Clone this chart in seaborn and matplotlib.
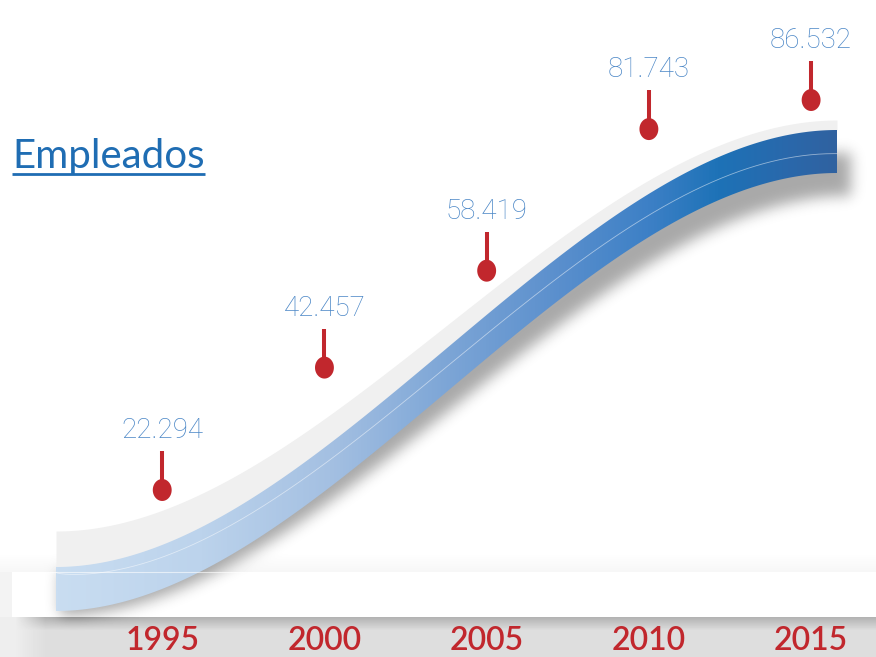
import numpy as np
import pandas as pd
import matplotlib
matplotlib.use('Agg')
import matplotlib.pyplot as plt
import seaborn as sns
from matplotlib.colors import LinearSegmentedColormap
from matplotlib.patches import Polygon

years = [1995, 2000, 2005, 2010, 2015]
empleados = [22294, 42457, 58419, 81743, 86532]
title = 'Empleados'

red = '#c1272d'
label_blue = '#4a86c6'
title_blue = '#1f6db3'
ribbon_stops = [(56, '#c9ddf1'), (200, '#bcd3ec'), (330, '#a4c0e2'), (450, '#7ca5d6'),
                (560, '#5a8fcd'), (650, '#3d80c6'), (720, '#1d72b7'), (790, '#2a68ab'),
                (837, '#3062a0')]

sns.set_theme(style='white')
plt.rcParams['font.family'] = ['Lato', 'DejaVu Sans']

W, H = 876, 657
fig = plt.figure(figsize=(W / 100, H / 100), dpi=100)
fig.patch.set_facecolor('white')

# --- decoration layer, pixel coordinates ---
deco = fig.add_axes([0, 0, 1, 1])
deco.axis('off')


def smooth(x, x0=56, x1=837):
    t = np.clip((x - x0) / (x1 - x0), 0, 1)
    return 3 * t**2 - 2 * t**3


def gray_top(x): return 531 - 411 * smooth(x)
def blue_top(x): return 567 - 437 * smooth(x)
def blue_bot(x): return 611 - 438 * smooth(x)


rows = np.arange(H)[:, None].astype(float)
cols = np.arange(W)[None, :].astype(float)

bg = np.ones((H, W))
# faint shade over the floor strip
bg -= 0.035 * np.clip((rows - 552) / 20, 0, 1) * (rows < 572)
bg[572:617, :12] = 0.95
# gray floor
floor = 0.70 + 0.17 * np.clip((rows - 617) / 13, 0, 1)
left = np.clip((cols - 15) / 30, 0, 1)
floor = 0.93 * (1 - left) + floor * left
bg = np.where(rows >= 617, floor, bg)

# ribbon drop shadow (blurred, offset grows with height)
s = smooth(cols)
dx = 3 + 10 * s
dy = 4 + 18 * s
xs_sh = cols - dx
mask = ((xs_sh >= 56) & (xs_sh <= 837)
        & (rows >= blue_top(xs_sh) + dy) & (rows <= blue_bot(xs_sh) + dy)).astype(float)
k = np.arange(-20, 21)
kern = np.exp(-k**2 / (2 * 7.0**2))
kern /= kern.sum()
blur = np.apply_along_axis(lambda r: np.convolve(r, kern, mode='same'), 1, mask)
blur = np.apply_along_axis(lambda c: np.convolve(c, kern, mode='same'), 0, blur)
bg -= 0.34 * blur

deco.imshow(bg, cmap='gray', vmin=0, vmax=1, extent=[0, W, H, 0], aspect='auto',
            interpolation='bilinear', zorder=1)

xs = np.linspace(56, 837, 500)
deco.fill_between(xs, gray_top(xs), blue_top(xs), color='#f0f0f0', lw=0, zorder=3)

blue_poly = Polygon(np.column_stack([np.r_[xs, xs[::-1]],
                                     np.r_[blue_top(xs), blue_bot(xs)[::-1]]]),
                    closed=True, facecolor='none', edgecolor='none')
deco.add_patch(blue_poly)
cmap = LinearSegmentedColormap.from_list(
    'ribbon', [((x - 56) / 781, c) for x, c in ribbon_stops])
grad = deco.imshow(np.linspace(0, 1, 512)[None, :], cmap=cmap,
                   extent=[56, 837, 611, 130], aspect='auto', zorder=3)
grad.set_clip_path(blue_poly)

t = (xs - 56) / 781
frac = 0.12 + 0.43 * np.sqrt(t)
deco.plot(xs, blue_top(xs) + frac * (blue_bot(xs) - blue_top(xs)),
          color='white', alpha=0.5, lw=0.6, zorder=4)
deco.plot([12, W], [572, 572], color='white', alpha=0.6, lw=0.8, zorder=4)

deco.set_xlim(0, W)
deco.set_ylim(H, 0)

# --- data layer ---
df = pd.DataFrame({'year': years, 'empleados': empleados})
ax = fig.add_axes([0, 0, 1, 1])
ax.patch.set_alpha(0)
ymin, ymax = -5214, 103006
stem = 39 / H * (ymax - ymin)

ax.vlines(df['year'], df['empleados'], df['empleados'] + stem, color=red, lw=2.9, zorder=4)
ang = np.linspace(0, 2 * np.pi, 60)
ellipse = np.column_stack([0.43 * np.cos(ang), 0.5 * np.sin(ang)])
sns.scatterplot(data=df, x='year', y='empleados', marker=ellipse, s=250, color=red,
                edgecolor='none', linewidth=0, legend=False, ax=ax, zorder=5)

for yr, v in zip(years, empleados):
    ax.annotate(f'{v:,}'.replace(',', '.'), xy=(yr, v), xytext=(0, 52),
                textcoords='offset pixels', ha='center', va='baseline',
                fontsize=20, fontweight='light', color=label_blue, zorder=6,
                family=['Roboto', 'DejaVu Sans'])
    ax.text(yr, 1 - 650 / H, str(yr), transform=ax.get_xaxis_transform(),
            ha='center', va='baseline', fontsize=23, fontweight='semibold', color=red)

ax.set_xlim(1990, 2017)
ax.set_ylim(ymin, ymax)
ax.axis('off')

ttl = fig.text(12 / W, 1 - 168 / H, title, ha='left', va='baseline',
               fontsize=29, color=title_blue)
fig.canvas.draw()
bb = ttl.get_window_extent()
deco.plot([bb.x0, bb.x1], [174, 174], color=title_blue, lw=2, solid_capstyle='butt', zorder=5)
deco.set_xlim(0, W)
deco.set_ylim(H, 0)

fig.savefig('out.png', dpi=100, facecolor='white')
